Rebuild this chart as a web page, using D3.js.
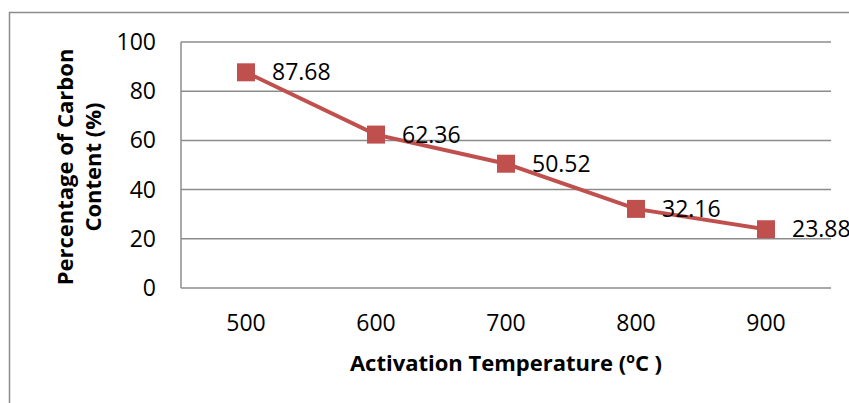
<!DOCTYPE html>
<meta charset="utf-8">
<style>
  body { margin: 0; background: #fff; }
  text { font-family: "Open Sans", sans-serif; fill: #000; }
</style>
<body>
<script src="https://d3js.org/d3.v7.min.js"></script>
<script>
  // data
  var temps = ["500", "600", "700", "800", "900"];
  var carbon = [87.68, 62.36, 50.52, 32.16, 23.88];
  var yTicks = [0, 20, 40, 60, 80, 100];

  var W = 849, H = 403;
  var plot = {left: 181, right: 831, top: 42, bottom: 288};

  var svg = d3.select("body").append("svg")
    .attr("width", W).attr("height", H);

  // chart frame (runs off the right / bottom edge)
  svg.append("rect")
    .attr("x", 9.5).attr("y", 12.5)
    .attr("width", 1000).attr("height", 500)
    .attr("fill", "none").attr("stroke", "#8c8c8c").attr("stroke-width", 1.5);

  var x = d3.scaleBand().domain(temps).range([plot.left, plot.right]);
  var y = d3.scaleLinear().domain([0, 100]).range([plot.bottom, plot.top]);

  // gridlines
  svg.append("g").selectAll("line").data(yTicks).enter().append("line")
    .attr("x1", plot.left).attr("x2", plot.right)
    .attr("y1", function(d) { return y(d); })
    .attr("y2", function(d) { return y(d); })
    .attr("stroke", "#8c8c8c").attr("stroke-width", 1.5);

  // y axis line
  svg.append("line")
    .attr("x1", plot.left).attr("x2", plot.left)
    .attr("y1", y(0)).attr("y2", y(100))
    .attr("stroke", "#8c8c8c").attr("stroke-width", 1.5);

  // y tick labels
  svg.append("g").selectAll("text").data(yTicks).enter().append("text")
    .attr("x", 156)
    .attr("y", function(d) { return y(d); })
    .attr("dy", "0.35em")
    .attr("text-anchor", "end")
    .style("font-size", "23px")
    .text(function(d) { return d; });

  // x tick labels
  svg.append("g").selectAll("text").data(temps).enter().append("text")
    .attr("x", function(d) { return x(d) + x.bandwidth() / 2; })
    .attr("y", 331)
    .attr("text-anchor", "middle")
    .style("font-size", "23px")
    .text(function(d) { return d; });

  // axis titles
  var xt = svg.append("text")
    .attr("x", 506).attr("y", 371)
    .attr("text-anchor", "middle")
    .style("font-size", "22px").style("font-weight", "bold");
  xt.append("tspan").text("Activation Temperature (");
  xt.append("tspan").attr("dy", -8).style("font-size", "14px").text("o");
  xt.append("tspan").attr("dy", 8).text("C )");

  var yt = svg.append("text")
    .attr("transform", "translate(0,167) rotate(-90)")
    .attr("text-anchor", "middle")
    .style("font-size", "22px").style("font-weight", "bold");
  yt.append("tspan").attr("x", 0).attr("y", 73).text("Percentage of Carbon");
  yt.append("tspan").attr("x", 0).attr("y", 101).text("Content (%)");

  // series line
  var pts = temps.map(function(t, i) { return {t: t, v: carbon[i]}; });
  var line = d3.line()
    .x(function(d) { return x(d.t) + x.bandwidth() / 2; })
    .y(function(d) { return y(d.v); });

  svg.append("path").datum(pts)
    .attr("d", line)
    .attr("fill", "none")
    .attr("stroke", "#c0504d")
    .attr("stroke-width", 4);

  // markers
  var ms = 18;
  svg.append("g").selectAll("rect").data(pts).enter().append("rect")
    .attr("x", function(d) { return x(d.t) + x.bandwidth() / 2 - ms / 2; })
    .attr("y", function(d) { return y(d.v) - ms / 2; })
    .attr("width", ms).attr("height", ms)
    .attr("fill", "#c0504d");

  // data labels
  svg.append("g").selectAll("text").data(pts).enter().append("text")
    .attr("x", function(d) { return x(d.t) + x.bandwidth() / 2 + 26; })
    .attr("y", function(d) { return y(d.v); })
    .attr("dy", "0.35em")
    .style("font-size", "23px")
    .text(function(d) { return d.v.toFixed(2); });
</script>
</body>
